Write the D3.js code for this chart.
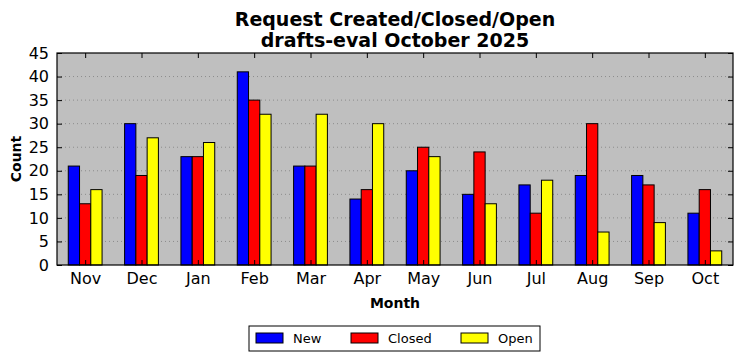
<!DOCTYPE html>
<html>
<head>
<meta charset="utf-8">
<script src="https://cdn.jsdelivr.net/npm/d3@7"></script>
<style>
body { margin: 0; background: #fff; }
text { font-family: "DejaVu Sans", sans-serif; }
</style>
</head>
<body>
<div id="chart"></div>
<script>
var svgWidth = 742;
var svgHeight = 361;

var margin = { top: 53, right: 9, bottom: 96, left: 57 };
var width = svgWidth - margin.left - margin.right;
var height = svgHeight - margin.top - margin.bottom;

// data
var months = ["Nov", "Dec", "Jan", "Feb", "Mar", "Apr", "May", "Jun", "Jul", "Aug", "Sep", "Oct"];
var newVals = [21, 30, 23, 41, 21, 14, 20, 15, 17, 19, 19, 11];
var closedVals = [13, 19, 23, 35, 21, 16, 25, 24, 11, 30, 17, 16];
var openVals = [16, 27, 26, 32, 32, 30, 23, 13, 18, 7, 9, 3];
var seriesNames = ["New", "Closed", "Open"];
var seriesColors = ["#0000ff", "#ff0000", "#ffff00"];
var yTicks = [0, 5, 10, 15, 20, 25, 30, 35, 40, 45];

var series = [newVals, closedVals, openVals];

var svg = d3.select("#chart")
    .append("svg")
    .attr("width", svgWidth)
    .attr("height", svgHeight);

var chartGroup = svg.append("g")
    .attr("transform", `translate(${margin.left}, ${margin.top})`);

// scales
var xScale = d3.scaleLinear()
    .domain([-0.5, months.length - 0.5])
    .range([0, width]);
var yScale = d3.scaleLinear()
    .domain([0, 45])
    .range([height, 0]);
var barW = 0.2;

// background
chartGroup.append("rect")
    .attr("width", width)
    .attr("height", height)
    .attr("fill", "#bfbfbf");

// grid
chartGroup.selectAll(".grid")
    .data(yTicks.slice(1, -1))
    .enter()
    .append("line")
    .attr("x1", 0)
    .attr("x2", width)
    .attr("y1", d => yScale(d))
    .attr("y2", d => yScale(d))
    .attr("stroke", "#8c8c8c")
    .attr("stroke-width", 1)
    .attr("stroke-dasharray", "1,3");

// bars
series.forEach(function(vals, s) {
    chartGroup.selectAll(".bar" + s)
        .data(vals)
        .enter()
        .append("rect")
        .attr("x", (d, i) => xScale(i - 0.3 + s * barW))
        .attr("width", xScale(barW) - xScale(0))
        .attr("y", d => yScale(d))
        .attr("height", d => height - yScale(d))
        .attr("fill", seriesColors[s])
        .attr("stroke", "#000")
        .attr("stroke-width", 1);
});

// axes (ticks inside, all four sides)
var bottomAxis = d3.axisBottom(xScale).tickValues(d3.range(months.length))
    .tickFormat(i => months[i]).tickSizeInner(-5).tickSizeOuter(0).tickPadding(8);
var topAxis = d3.axisTop(xScale).tickValues(d3.range(months.length))
    .tickFormat("").tickSizeInner(-5).tickSizeOuter(0);
var leftAxis = d3.axisLeft(yScale).tickValues(yTicks)
    .tickSizeInner(-5).tickSizeOuter(0).tickPadding(8);
var rightAxis = d3.axisRight(yScale).tickValues(yTicks)
    .tickFormat("").tickSizeInner(-5).tickSizeOuter(0);

chartGroup.append("g").attr("transform", `translate(0,${height})`).call(bottomAxis);
chartGroup.append("g").call(topAxis);
chartGroup.append("g").call(leftAxis);
chartGroup.append("g").attr("transform", `translate(${width},0)`).call(rightAxis);

chartGroup.selectAll(".domain").remove();
chartGroup.selectAll(".tick text")
    .attr("font-size", "16px")
    .attr("fill", "#000")
    .style("font-family", "DejaVu Sans, sans-serif");
chartGroup.selectAll(".tick line").attr("stroke", "#000");

// frame
chartGroup.append("rect")
    .attr("width", width)
    .attr("height", height)
    .attr("fill", "none")
    .attr("stroke", "#000")
    .attr("stroke-width", 1.2);

// title
svg.append("text")
    .attr("x", margin.left + width / 2)
    .attr("y", 26)
    .attr("text-anchor", "middle")
    .attr("font-size", "19px")
    .attr("font-weight", "bold")
    .text("Request Created/Closed/Open");
svg.append("text")
    .attr("x", margin.left + width / 2)
    .attr("y", 47)
    .attr("text-anchor", "middle")
    .attr("font-size", "19px")
    .attr("font-weight", "bold")
    .text("drafts-eval October 2025");

// axis labels
svg.append("text")
    .attr("x", margin.left + width / 2)
    .attr("y", 308)
    .attr("text-anchor", "middle")
    .attr("font-size", "14px")
    .attr("font-weight", "bold")
    .text("Month");
svg.append("text")
    .attr("transform", `translate(21, ${margin.top + height / 2}) rotate(-90)`)
    .attr("text-anchor", "middle")
    .attr("font-size", "14px")
    .attr("font-weight", "bold")
    .text("Count");

// legend
var legend = svg.append("g").attr("transform", "translate(249, 326)");
legend.append("rect")
    .attr("width", 291)
    .attr("height", 25)
    .attr("fill", "#fff")
    .attr("stroke", "#000")
    .attr("stroke-width", 1);
var legendX = [7, 102, 212];
seriesNames.forEach(function(name, s) {
    legend.append("rect")
        .attr("x", legendX[s])
        .attr("y", 7)
        .attr("width", 27)
        .attr("height", 10)
        .attr("fill", seriesColors[s])
        .attr("stroke", "#000");
    legend.append("text")
        .attr("x", legendX[s] + 37)
        .attr("y", 17)
        .attr("font-size", "13px")
        .text(name);
});
</script>
</body>
</html>
